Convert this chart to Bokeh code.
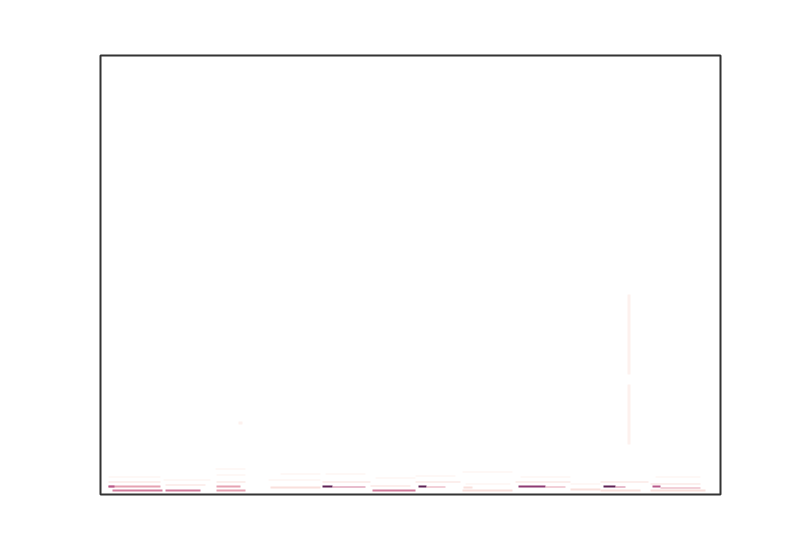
from bokeh.plotting import figure
from bokeh.models import Range1d, ColumnDataSource
from bokeh.transform import linear_cmap
from bokeh.embed import file_html
from bokeh.resources import INLINE

# spectrogram-like streaks: time frames, frequency bins, intensity 0..1
t_start = [8, 12, 8, 8, 8,
           65, 65, 63,
           116, 116, 116, 116, 115,
           170, 168, 180,
           222, 232, 222, 225,
           272, 270, 275,
           318, 326, 315, 315,
           363, 362, 365, 362,
           418, 445, 415, 420,
           470, 470,
           503, 515, 500, 500,
           552, 560, 550, 550, 555,
           527, 527, 138]
t_end = [60, 62, 14, 60, 60,
         100, 105, 110,
         145, 140, 145, 145, 145,
         220, 220, 220,
         232, 265, 270, 265,
         315, 310, 315,
         326, 345, 360, 355,
         372, 412, 410, 412,
         445, 465, 470, 470,
         500, 500,
         515, 525, 548, 540,
         560, 600, 605, 600, 600,
         530, 530, 142]
f_low = [7, 3, 7, 12, 17,
         3, 9, 14,
         12, 7, 3, 19, 25,
         6, 14, 20,
         7, 7, 12, 20,
         3, 8, 16,
         7, 7, 12, 18,
         6, 3, 10, 22,
         7, 7, 12, 17,
         4, 10,
         7, 7, 12, 3,
         7, 6, 3, 10, 17,
         50, 120, 70]
f_high = [9, 5, 9, 13, 18,
          5, 10, 15,
          13, 9, 5, 20, 26,
          8, 15, 21,
          9, 8, 13, 21,
          5, 9, 17,
          9, 8, 13, 19,
          8, 5, 11, 23,
          9, 8, 13, 18,
          6, 11,
          9, 8, 13, 5,
          9, 7, 5, 11, 18,
          110, 200, 73]
level = [0.45, 0.6, 0.7, 0.2, 0.12,
         0.6, 0.22, 0.12,
         0.3, 0.4, 0.45, 0.15, 0.12,
         0.25, 0.15, 0.12,
         0.85, 0.5, 0.22, 0.12,
         0.5, 0.25, 0.15,
         0.8, 0.45, 0.2, 0.12,
         0.3, 0.22, 0.15, 0.12,
         0.75, 0.45, 0.22, 0.12,
         0.3, 0.15,
         0.85, 0.6, 0.2, 0.25,
         0.7, 0.45, 0.3, 0.2, 0.12,
         0.12, 0.1, 0.12]

palette = ["#ffffff", "#fdf1ee", "#f9e0dc", "#f2c6c6", "#e6a2b2",
           "#d27c9c", "#b8588a", "#8e3a73", "#5e2054", "#2e0c30"]

src = ColumnDataSource(dict(left=t_start, right=t_end, bottom=f_low, top=f_high, level=level))

p = figure(width=784, height=534, output_backend="svg", toolbar_location=None,
           x_range=Range1d(0, 620), y_range=Range1d(0, 439),
           min_border_left=100, min_border_right=64, min_border_top=55, min_border_bottom=40)
p.quad(left="left", right="right", bottom="bottom", top="top", source=src,
       fill_color=linear_cmap("level", palette, 0, 1), line_color=None)

p.xaxis.visible = False
p.yaxis.visible = False
p.grid.visible = False
p.outline_line_color = "#333333"
p.outline_line_width = 2
p.background_fill_color = "white"
p.border_fill_color = "white"

open("out.html", "w").write(file_html(p, INLINE))
